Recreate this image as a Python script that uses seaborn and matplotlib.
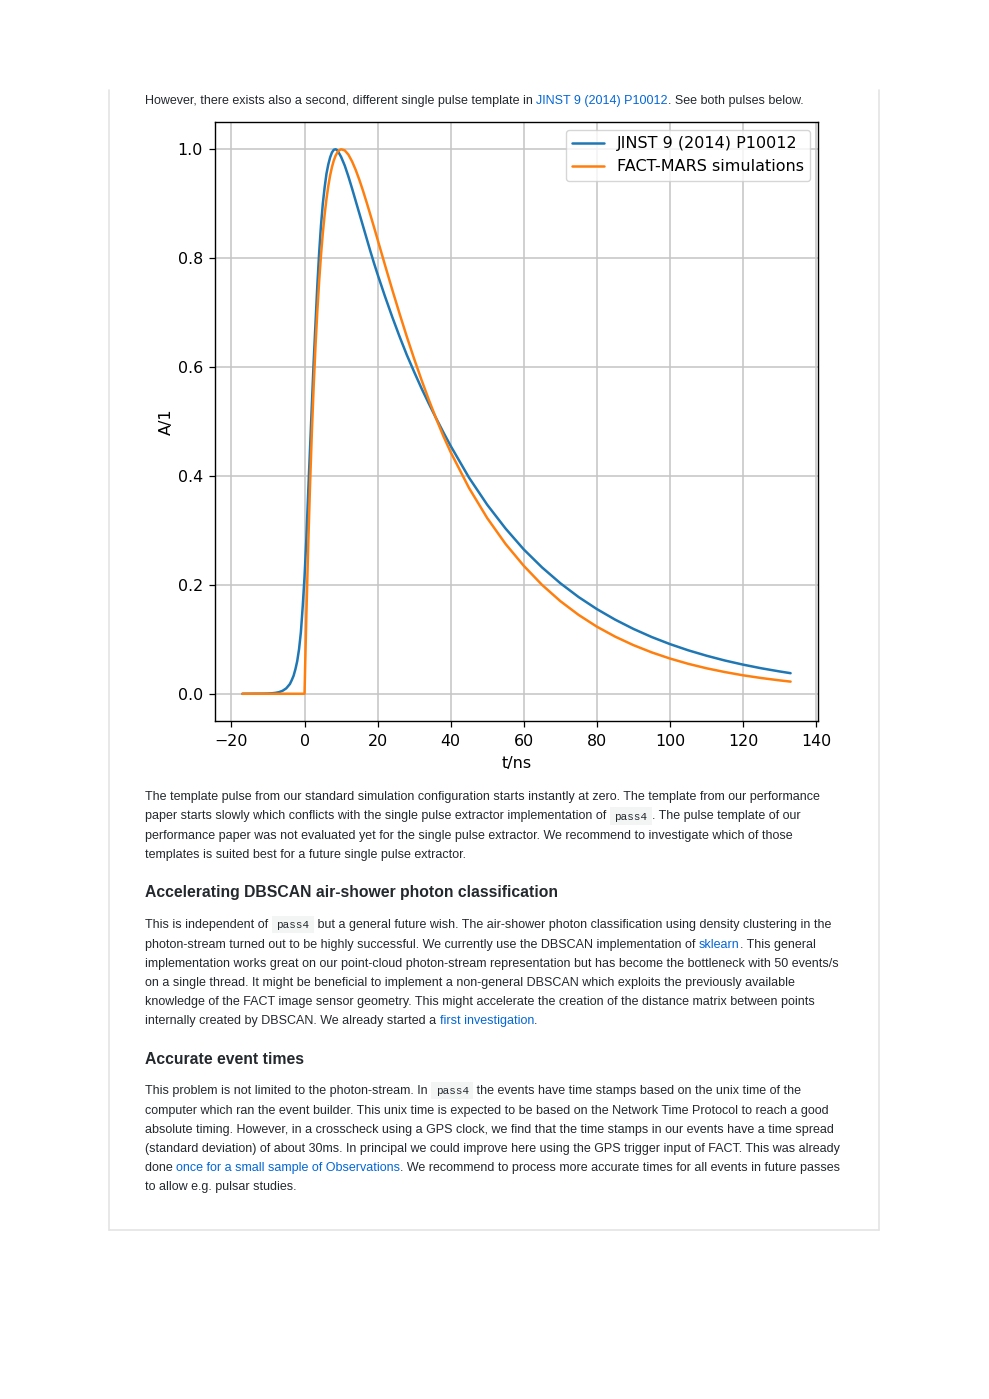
import numpy as np
import pandas as pd
import matplotlib
matplotlib.use("Agg")
import matplotlib.pyplot as plt
import seaborn as sns
from matplotlib.patches import Rectangle

# ---------------- data ----------------
t_jinst = [-17, -15, -13, -11, -10, -9, -8, -7, -6, -5,
           -4.5, -4, -3.5, -3, -2.5, -2, -1.5, -1, -0.5, 0,
           0.5, 1, 1.5, 2, 2.5, 3, 3.5, 4, 4.5, 5,
           5.5, 6, 6.5, 7, 7.5, 8, 8.5, 9,
           10, 11, 12, 13, 14, 15, 16, 17, 18, 19, 20,
           22, 24, 26, 28, 30, 32, 34, 36, 38, 40,
           45, 50, 55, 60, 65, 70, 75, 80, 85, 90, 95, 100, 105, 110, 115, 120, 125, 130,
           133]
a_jinst = [0.0, 0.0001, 0.0002, 0.0003, 0.0005, 0.0009, 0.0016, 0.003, 0.0055, 0.010,
           0.014, 0.018, 0.025, 0.033, 0.045, 0.060, 0.082, 0.113, 0.160, 0.215,
           0.285, 0.37, 0.45, 0.53, 0.61, 0.68, 0.75, 0.81, 0.86, 0.90,
           0.93, 0.955, 0.972, 0.985, 0.994, 0.999, 1.0, 0.998,
           0.986, 0.970, 0.950, 0.928, 0.905, 0.882, 0.859, 0.836, 0.813, 0.791, 0.770,
           0.730, 0.692, 0.656, 0.622, 0.591, 0.561, 0.533, 0.506, 0.480, 0.455,
           0.397, 0.347, 0.3035, 0.265, 0.232, 0.203, 0.1776, 0.1555, 0.1361, 0.1191,
           0.1042, 0.0912, 0.0798, 0.0699, 0.0611, 0.0535, 0.0468, 0.0410,
           0.0378]

t_mars = [-17, 0, 0.25, 0.5,
          1, 1.5, 2, 2.5, 3, 3.5, 4, 4.5, 5, 5.5, 6, 6.5, 7, 7.5, 8, 8.5, 9, 9.5, 10,
          11, 12, 13, 14, 15, 16, 17, 18, 19, 20,
          22, 24, 26, 28, 30, 32, 34, 36, 38, 40,
          45, 50, 55, 60, 65, 70, 75, 80, 85, 90, 95, 100, 105, 110, 115, 120, 125, 130,
          133]
a_mars = [0.0, 0.0, 0.0744, 0.1441,
          0.2709, 0.3821, 0.4794, 0.5645, 0.6384, 0.7025, 0.7578, 0.8052, 0.8457, 0.8799,
          0.9086, 0.9323, 0.9517, 0.9672, 0.9792, 0.9881, 0.9943, 0.9982, 0.9999,
          0.9979, 0.9901, 0.9777, 0.9620, 0.9438, 0.9237, 0.9022, 0.8799, 0.8571, 0.8340,
          0.7876, 0.7421, 0.6981, 0.6555, 0.6150, 0.5765, 0.5400, 0.5055, 0.4730, 0.4435,
          0.3780, 0.3225, 0.2752, 0.2349, 0.1999, 0.1701, 0.1448, 0.1232, 0.1049, 0.0893,
          0.0760, 0.0647, 0.0550, 0.0468, 0.0399, 0.0339, 0.0289, 0.0246,
          0.0223]

series_labels = ["JINST 9 (2014) P10012", "FACT-MARS simulations"]
x_ticks = [-20, 0, 20, 40, 60, 80, 100, 120, 140]
y_ticks = [0.0, 0.2, 0.4, 0.6, 0.8, 1.0]
x_label = "t/ns"
y_label = "A/1"

# ---------------- page text ----------------
intro_line = [("However, there exists also a second, different single pulse template in ", "n"),
              ("JINST 9 (2014) P10012", "link"),
              (". See both pulses below.", "n")]

para2 = [
    [("The template pulse from our standard simulation configuration starts instantly at zero. The template from our performance", "n")],
    [("paper starts slowly which conflicts with the single pulse extractor implementation of ", "n"), ("pass4", "code"),
     (". The pulse template of our", "n")],
    [("performance paper was not evaluated yet for the single pulse extractor. We recommend to investigate which of those", "n")],
    [("templates is suited best for a future single pulse extractor.", "n")],
]
heading1 = "Accelerating DBSCAN air-shower photon classification"
para3 = [
    [("This is independent of ", "n"), ("pass4", "code"),
     (" but a general future wish. The air-shower photon classification using density clustering in the", "n")],
    [("photon-stream turned out to be highly successful. We currently use the DBSCAN implementation of ", "n"),
     ("sklearn", "link"), (". This general", "n")],
    [("implementation works great on our point-cloud photon-stream representation but has become the bottleneck with 50 events/s", "n")],
    [("on a single thread. It might be beneficial to implement a non-general DBSCAN which exploits the previously available", "n")],
    [("knowledge of the FACT image sensor geometry. This might accelerate the creation of the distance matrix between points", "n")],
    [("internally created by DBSCAN. We already started a ", "n"), ("first investigation", "link"), (".", "n")],
]
heading2 = "Accurate event times"
para4 = [
    [("This problem is not limited to the photon-stream. In ", "n"), ("pass4", "code"),
     (" the events have time stamps based on the unix time of the", "n")],
    [("computer which ran the event builder. This unix time is expected to be based on the Network Time Protocol to reach a good", "n")],
    [("absolute timing. However, in a crosscheck using a GPS clock, we find that the time stamps in our events have a time spread", "n")],
    [("(standard deviation) of about 30ms. In principal we could improve here using the GPS trigger input of FACT. This was already", "n")],
    [("done ", "n"), ("once for a small sample of Observations", "link"),
     (". We recommend to process more accurate times for all events in future passes", "n")],
    [("to allow e.g. pulsar studies.", "n")],
]

# ---------------- style ----------------
sns.set_style("ticks")
plt.rcParams.update({
    "font.family": ["DejaVu Sans"],
    "font.size": 11.3,
    "axes.edgecolor": "black",
    "axes.labelcolor": "black",
    "xtick.color": "black",
    "ytick.color": "black",
    "text.color": "black",
    "axes.linewidth": 1.0,
    "xtick.major.width": 0.9,
    "ytick.major.width": 0.9,
    "xtick.major.size": 4.2,
    "ytick.major.size": 4.2,
    "xtick.major.pad": 5,
    "ytick.major.pad": 4.5,
    "xtick.labelsize": 11.4,
    "ytick.labelsize": 11.4,
})

W, H = 989, 1399
fig = plt.figure(figsize=(W / 100, H / 100), dpi=100)
fig.patch.set_facecolor("white")

page = fig.add_axes([0, 0, 1, 1])
page.set_xlim(0, W)
page.set_ylim(H, 0)
page.axis("off")
page.set_zorder(0)

# card border
card_col = "#e4e4e4"
page.plot([109, 109], [90, 1230], color=card_col, lw=1.2)
page.plot([879, 879], [90, 1230], color=card_col, lw=1.2)
page.plot([109, 879], [1230, 1230], color=card_col, lw=1.2)

# ---------------- chart ----------------
ax = fig.add_axes([215 / W, 1 - 721 / H, 603 / W, 599 / H])
ax.set_zorder(2)
ax.set_facecolor("white")

df_j = pd.DataFrame({"t": t_jinst, "A": a_jinst})
df_m = pd.DataFrame({"t": t_mars, "A": a_mars})
sns.lineplot(data=df_j, x="t", y="A", ax=ax, color="#1f77b4", lw=1.8,
             label=series_labels[0], sort=False, estimator=None)
sns.lineplot(data=df_m, x="t", y="A", ax=ax, color="#ff7f0e", lw=1.8,
             label=series_labels[1], sort=False, estimator=None)

ax.margins(x=0.05, y=0.05)
ax.set_xticks(x_ticks)
ax.set_yticks(y_ticks)
ax.set_yticklabels([f"{v:.1f}" for v in y_ticks])
ax.grid(True, color="#c4c4c4", lw=1.1)
ax.set_axisbelow(True)
ax.set_xlabel(x_label, fontsize=11.5, labelpad=5)
ax.set_ylabel(y_label, fontsize=11.5, labelpad=3)
for s in ax.spines.values():
    s.set_visible(True)
    s.set_color("black")
leg = ax.legend(loc="upper right", fontsize=11.5, frameon=True, fancybox=True,
                framealpha=0.8, edgecolor="#cccccc", borderaxespad=0.5)

# ---------------- text rendering helpers ----------------
renderer = fig.canvas.get_renderer()
TEXT_COL = "#24292e"
LINK_COL = "#0366d6"
SANS = "Liberation Sans"
MONO = "Liberation Mono"


def width(s, **kw):
    t = page.text(0, 0, s, **kw)
    w = t.get_window_extent(renderer).width
    t.remove()
    return w


def adv(s, **kw):
    return width("|" + s + "|", **kw) - width("||", **kw)


# fit body font size to the intro line width
full_intro = "".join(s for s, _ in intro_line)
w10 = adv(full_intro, family=SANS, size=10)
BODY = 10 * 659.0 / w10
wh = adv(heading1, family=SANS, size=10, weight="bold")
HEAD = 10 * 410.0 / wh
CODE = BODY * 0.88
X0 = 145
BASE = 4.0


def draw_line(y, segs):
    x = X0
    for s, kind in segs:
        if kind == "code":
            cw = adv(s, family=MONO, size=CODE)
            pad = 4.5
            page.add_patch(Rectangle((x, y - 8.5), cw + 2 * pad, 17.5,
                                     facecolor="#f3f4f4", edgecolor="none", zorder=1))
            page.text(x + pad, y + BASE, s, family=MONO, size=CODE, color=TEXT_COL,
                      va="baseline", ha="left", zorder=2)
            x += cw + 2 * pad
        else:
            col = LINK_COL if kind == "link" else TEXT_COL
            page.text(x, y + BASE, s, family=SANS, size=BODY, color=col,
                      va="baseline", ha="left", zorder=2)
            x += adv(s, family=SANS, size=BODY)


draw_line(100, intro_line)
for yy, segs in zip([796, 815.5, 835, 854], para2):
    draw_line(yy, segs)
page.text(X0, 892 + 5.5, heading1, family=SANS, size=HEAD, weight="bold",
          color=TEXT_COL, va="baseline", ha="left")
for yy, segs in zip([924, 944, 963, 982, 1001, 1020], para3):
    draw_line(yy, segs)
page.text(X0, 1058 + 5.5, heading2, family=SANS, size=HEAD, weight="bold",
          color=TEXT_COL, va="baseline", ha="left")
for yy, segs in zip([1090, 1110, 1129, 1148, 1167, 1186], para4):
    draw_line(yy, segs)

fig.savefig("out.png", dpi=100, facecolor="white")
